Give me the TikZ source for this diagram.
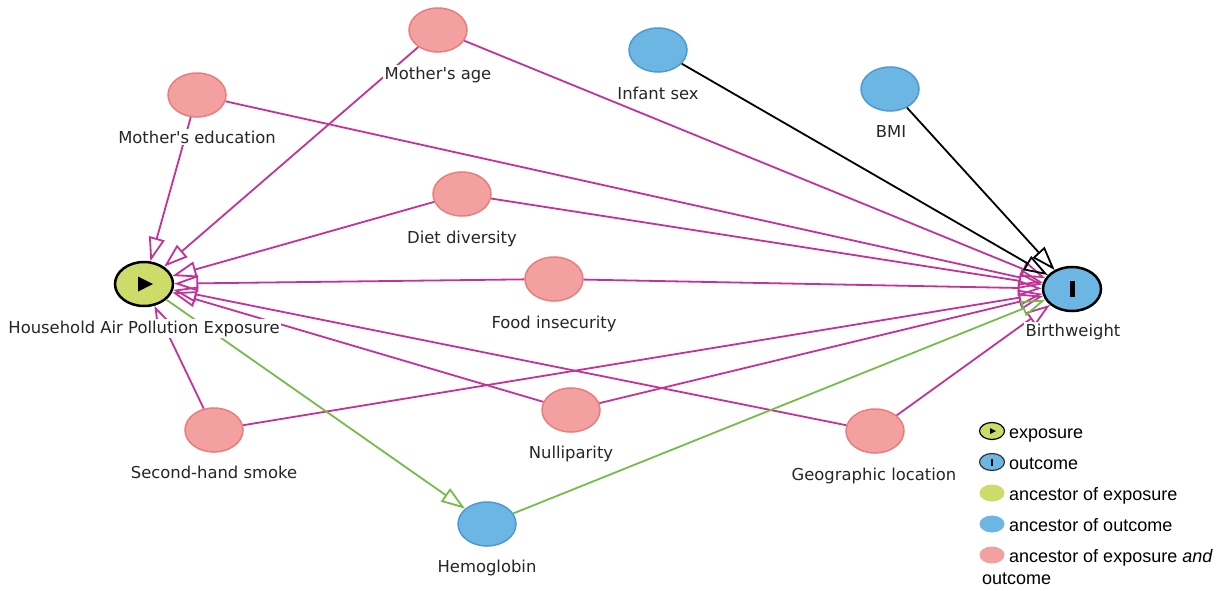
\documentclass[tikz,border=0pt]{standalone}
\usepackage{fontspec}
\setmainfont{DejaVu Sans}[Ligatures=TeXOff]
\newfontfamily\legfont{Liberation Sans}
\usetikzlibrary{shapes.geometric,arrows.meta}
\definecolor{edgepink}{RGB}{194,50,152}
\definecolor{edgegreen}{RGB}{118,188,72}
\definecolor{nodepink}{RGB}{243,161,160}
\definecolor{nodepinkline}{RGB}{234,124,122}
\definecolor{nodeblue}{RGB}{108,182,228}
\definecolor{nodeblueline}{RGB}{78,152,212}
\definecolor{nodeyellow}{RGB}{205,220,104}
\begin{document}
\begin{tikzpicture}[x=1pt,y=-1pt,
  var/.style={ellipse, minimum width=58pt, minimum height=44pt, inner sep=0pt, line width=1.5pt},
  pinknode/.style={var, fill=nodepink, draw=nodepinkline},
  bluenode/.style={var, fill=nodeblue, draw=nodeblueline},
  expnode/.style={var, fill=nodeyellow, draw=black, line width=2.5pt},
  outnode/.style={var, fill=nodeblue, draw=black, line width=2.5pt},
  lab/.style={fill=white, inner sep=1.5pt, anchor=base, font=\fontsize{16.4}{19}\selectfont, text=black!85},
  tip/.style={-{Triangle[open,length=24pt,width=16pt]}},
  pe/.style={draw=edgepink, line width=1.8pt, tip},
  ge/.style={draw=edgegreen, line width=1.8pt, tip},
  be/.style={draw=black, line width=1.8pt, tip},
  legicon/.style={ellipse, minimum width=25pt, minimum height=17pt, inner sep=0pt, line width=1.2pt},
  legtext/.style={anchor=base west, inner sep=0pt, font=\legfont\fontsize{18}{22}\selectfont}
]
\useasboundingbox (0,0) rectangle (1231,590);

% nodes
\node[expnode] (hap) at (144,284) {};
\node[outnode] (bw) at (1072,289) {};
\node[pinknode] (medu) at (197,95) {};
\node[pinknode] (mage) at (438,30) {};
\node[bluenode] (sex) at (658,50) {};
\node[bluenode] (bmi) at (890,89) {};
\node[pinknode] (diet) at (462,194) {};
\node[pinknode] (food) at (554,279) {};
\node[pinknode] (smoke) at (214,430) {};
\node[pinknode] (nulli) at (571,410) {};
\node[pinknode] (geo) at (875,431) {};
\node[bluenode] (hemo) at (487,524) {};

% node icons
\fill (hap.center) ++(-6,-7.5) -- ++(0,15) -- ++(15,-7.5) -- cycle;
\fill (bw.center) ++(-2.5,-8) rectangle ++(5,16);

% edges into exposure
\draw[pe] (medu) -- (hap);
\draw[pe] (mage) -- (hap);
\draw[pe] (diet) -- (hap);
\draw[pe] (food) -- (hap);
\draw[pe] (nulli) -- (hap);
\draw[pe] (geo) -- (hap);
\draw[pe] (smoke) -- (hap);
% edges into outcome
\draw[pe] (medu) -- (bw);
\draw[pe] (mage) -- (bw);
\draw[pe] (diet) -- (bw);
\draw[pe] (food) -- (bw);
\draw[pe] (smoke) -- (bw);
\draw[pe] (nulli) -- (bw);
\draw[pe] (geo) -- (bw);
\draw[be] (sex) -- (bw);
\draw[be] (bmi) -- (bw);
% mediator path
\draw[ge] (hap) -- (hemo);
\draw[ge] (hemo) -- (bw);

% labels
\node[lab] (lhap) at (144,333) {Household Air Pollution Exposure};
\node[lab] (lbw) at (1073,336) {Birthweight};
\node[lab] (lmedu) at (197,143) {Mother's education};
\node[lab] (lmage) at (438,79) {Mother's age};
\node[lab] (lsex) at (658,99) {Infant sex};
\node[lab] (lbmi) at (891,137) {BMI};
\node[lab] (ldiet) at (462,243) {Diet diversity};
\node[lab] (lfood) at (554,328) {Food insecurity};
\node[lab] (lsmoke) at (214,478) {Second-hand smoke};
\node[lab] (lnulli) at (571,458) {Nulliparity};
\node[lab] (lgeo) at (874,480) {Geographic location};
\node[lab] (lhemo) at (487,572) {Hemoglobin};

% legend
\node[legicon, fill=nodeyellow, draw=black] (k1) at (992,431) {};
\fill (k1.center) ++(-2,-3) -- ++(0,6) -- ++(6,-3) -- cycle;
\node[legtext] (t1) at (1009,438) {exposure};
\node[legicon, fill=nodeblue, draw=black!80] (k2) at (992,462) {};
\fill (k2.center) ++(-1,-3.5) rectangle ++(2,7);
\node[legtext] (t2) at (1009,469) {outcome};
\node[legicon, fill=nodeyellow] (k3) at (992,493) {};
\node[legtext] (t3) at (1009,500) {ancestor of exposure};
\node[legicon, fill=nodeblue] (k4) at (992,524) {};
\node[legtext] (t4) at (1009,531) {ancestor of outcome};
\node[legicon, fill=nodepink] (k5) at (992,555) {};
\node[legtext] (t5) at (1009,562) {ancestor of exposure \textit{and}};
\node[legtext] (t6) at (982,584) {outcome};
\end{tikzpicture}
\end{document}
